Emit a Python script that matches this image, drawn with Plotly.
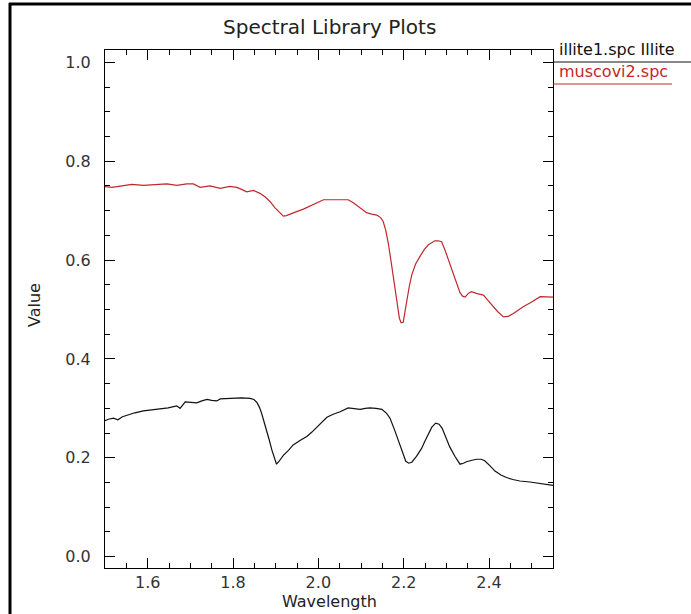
import plotly.graph_objects as go

# Illite (illite1.spc) reflectance spectrum
wl_illite = [1.496, 1.508, 1.52, 1.53, 1.541, 1.551, 1.57, 1.59, 1.61, 1.629, 1.648, 1.668,
             1.676, 1.688, 1.700, 1.715, 1.727, 1.739, 1.750, 1.762, 1.770, 1.785, 1.801,
             1.820, 1.840, 1.849, 1.856, 1.862, 1.867, 1.873, 1.879, 1.885, 1.891, 1.897,
             1.902, 1.908, 1.918, 1.930, 1.941, 1.957, 1.973, 1.985, 1.996, 2.008, 2.020,
             2.035, 2.051, 2.070, 2.084, 2.098, 2.110, 2.121, 2.135, 2.149, 2.160, 2.168,
             2.178, 2.187, 2.197, 2.205, 2.212, 2.219, 2.230, 2.242, 2.250, 2.258, 2.266,
             2.275, 2.283, 2.290, 2.300, 2.308, 2.320, 2.332, 2.340, 2.347, 2.360, 2.371,
             2.382, 2.390, 2.402, 2.414, 2.428, 2.441, 2.456, 2.472, 2.496, 2.52, 2.55]
r_illite = [0.274, 0.278, 0.280, 0.277, 0.283, 0.286, 0.291, 0.295, 0.297, 0.299, 0.301, 0.305,
            0.300, 0.313, 0.312, 0.311, 0.315, 0.318, 0.316, 0.315, 0.319, 0.320, 0.320,
            0.321, 0.320, 0.318, 0.312, 0.302, 0.290, 0.273, 0.256, 0.236, 0.216, 0.199,
            0.187, 0.193, 0.205, 0.215, 0.226, 0.235, 0.243, 0.252, 0.262, 0.272, 0.282,
            0.288, 0.293, 0.301, 0.299, 0.298, 0.300, 0.301, 0.300, 0.298, 0.290, 0.280,
            0.258, 0.236, 0.212, 0.193, 0.189, 0.191, 0.203, 0.219, 0.234, 0.249, 0.262,
            0.270, 0.268, 0.260, 0.240, 0.222, 0.203, 0.187, 0.189, 0.192, 0.195, 0.197,
            0.197, 0.194, 0.184, 0.173, 0.165, 0.160, 0.156, 0.153, 0.151, 0.148, 0.144]

# Muscovite (muscovi2.spc) reflectance spectrum
wl_musc = [1.496, 1.516, 1.540, 1.563, 1.590, 1.621, 1.645, 1.668, 1.692, 1.707, 1.723, 1.746,
           1.770, 1.793, 1.809, 1.820, 1.832, 1.848, 1.863, 1.875, 1.887, 1.898, 1.910, 1.918,
           1.925, 1.935, 1.949, 1.965, 1.980, 1.996, 2.012, 2.043, 2.070, 2.082, 2.094, 2.104,
           2.113, 2.125, 2.137, 2.146, 2.152, 2.158, 2.164, 2.170, 2.176, 2.181, 2.186, 2.190,
           2.194, 2.199, 2.203, 2.207, 2.213, 2.219, 2.228, 2.238, 2.248, 2.258, 2.266, 2.273,
           2.281, 2.289, 2.297, 2.305, 2.313, 2.320, 2.326, 2.332, 2.338, 2.344, 2.352, 2.359,
           2.372, 2.387, 2.396, 2.406, 2.420, 2.434, 2.445, 2.457, 2.470, 2.483, 2.496, 2.51,
           2.52, 2.55]
r_musc = [0.749, 0.747, 0.750, 0.753, 0.751, 0.753, 0.754, 0.751, 0.754, 0.754, 0.747, 0.750,
          0.745, 0.749, 0.747, 0.743, 0.738, 0.741, 0.735, 0.728, 0.718, 0.706, 0.695, 0.689,
          0.690, 0.694, 0.698, 0.703, 0.709, 0.716, 0.722, 0.722, 0.722, 0.716, 0.708, 0.701,
          0.696, 0.693, 0.691, 0.686, 0.678, 0.660, 0.634, 0.600, 0.566, 0.535, 0.505, 0.482,
          0.473, 0.474, 0.495, 0.519, 0.546, 0.570, 0.592, 0.607, 0.621, 0.631, 0.636, 0.639,
          0.639, 0.637, 0.620, 0.600, 0.580, 0.560, 0.545, 0.534, 0.527, 0.525, 0.533, 0.536,
          0.532, 0.529, 0.520, 0.509, 0.496, 0.485, 0.486, 0.492, 0.500, 0.507, 0.513, 0.521,
          0.526, 0.525]

x_ticks = [1.6, 1.8, 2.0, 2.2, 2.4]
x_tick_text = ["1.6", "1.8", "2.0", "2.2", "2.4"]
y_ticks = [0.0, 0.2, 0.4, 0.6, 0.8, 1.0]
y_tick_text = ["0.0", "0.2", "0.4", "0.6", "0.8", "1.0"]

series_names = ["illite1.spc Illite", "muscovi2.spc"]
series_colors = ["#111111", "#c0282c"]

W, H = 691, 614
L, R, T, B = 105, 553, 50, 568  # plot box in page pixels
FONT = "DejaVu Sans"


def px(x):
    return (x - L) / (R - L)


def py(y):
    return (B - y) / (B - T)


fig = go.Figure()
fig.add_trace(go.Scatter(x=wl_illite, y=r_illite, mode="lines",
                         line=dict(color=series_colors[0], width=1.2),
                         name=series_names[0], showlegend=False))
fig.add_trace(go.Scatter(x=wl_musc, y=r_musc, mode="lines",
                         line=dict(color=series_colors[1], width=1.2),
                         name=series_names[1], showlegend=False))

axis_common = dict(
    showgrid=False, zeroline=False, showline=True, linecolor="black", linewidth=1,
    mirror="ticks", ticks="inside", ticklen=10, tickwidth=1, tickcolor="black",
    tickfont=dict(family=FONT, size=16, color="#333333"),
)
fig.update_xaxes(range=[1.5, 2.55], tickmode="array", tickvals=x_ticks, ticktext=x_tick_text,
                 minor=dict(ticks="inside", ticklen=5, tickwidth=1, tickcolor="black",
                            dtick=0.05, tick0=1.5),
                 ticklabelstandoff=0, **axis_common)
fig.update_yaxes(range=[-0.023, 1.025], tickmode="array", tickvals=y_ticks, ticktext=y_tick_text,
                 minor=dict(ticks="inside", ticklen=5, tickwidth=1, tickcolor="black",
                            dtick=0.05, tick0=0.0),
                 ticklabelstandoff=10, **axis_common)

annotations = [
    dict(text="Spectral Library Plots", x=px((L + R) / 2), y=py(27), xref="paper", yref="paper",
         showarrow=False, xanchor="center", yanchor="middle",
         font=dict(family=FONT, size=20, color="#222222")),
    dict(text="Wavelength", x=px((L + R) / 2), y=py(601), xref="paper", yref="paper",
         showarrow=False, xanchor="center", yanchor="middle",
         font=dict(family=FONT, size=16, color="#222222")),
    dict(text="Value", x=px(34), y=py(305), xref="paper", yref="paper", textangle=-90,
         showarrow=False, xanchor="center", yanchor="middle",
         font=dict(family=FONT, size=16, color="#222222")),
]
legend_rows = [62, 84]
for name, color, yrow in zip(series_names, series_colors, legend_rows):
    annotations.append(dict(text=name, x=px(R + 4), y=py(yrow - 1), xref="paper", yref="paper",
                            showarrow=False, xanchor="left", yanchor="bottom",
                            font=dict(family=FONT, size=16, color=color)))

shapes = []
# sample lines under each legend entry
shapes.append(dict(type="line", xref="paper", yref="paper", x0=px(R), x1=px(W + 20),
                   y0=py(legend_rows[0]), y1=py(legend_rows[0]),
                   line=dict(color=series_colors[0], width=1)))
shapes.append(dict(type="line", xref="paper", yref="paper", x0=px(R), x1=px(672),
                   y0=py(legend_rows[1]), y1=py(legend_rows[1]),
                   line=dict(color=series_colors[1], width=1)))
# window frame
shapes.append(dict(type="line", xref="paper", yref="paper", x0=px(10), x1=px(10),
                   y0=py(3), y1=py(H + 10), line=dict(color="black", width=3)))
shapes.append(dict(type="line", xref="paper", yref="paper", x0=px(9), x1=px(W + 10),
                   y0=py(4), y1=py(4), line=dict(color="black", width=3)))

fig.update_layout(
    width=W, height=H, autosize=False,
    margin=dict(l=L, r=W - R, t=T, b=H - B, pad=0),
    paper_bgcolor="white", plot_bgcolor="white",
    annotations=annotations, shapes=shapes, showlegend=False,
)

fig.write_html("out.html")
